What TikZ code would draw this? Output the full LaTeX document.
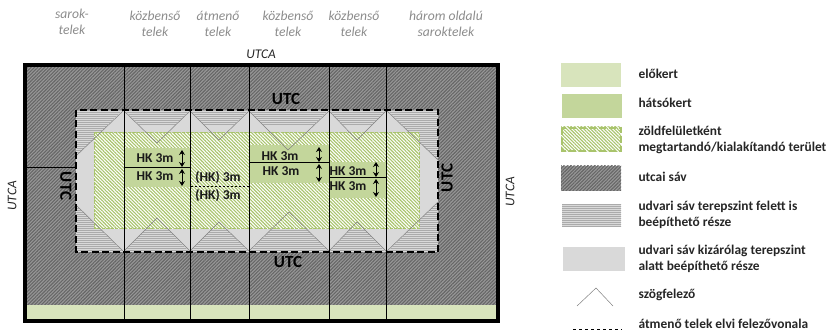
\documentclass[tikz,border=0pt]{standalone}
\usepackage{fontspec}
\setmainfont{Carlito}
\usetikzlibrary{patterns.meta,arrows.meta}
\definecolor{frontg}{HTML}{D8E4BC}
\definecolor{backg}{HTML}{C3D69B}
\definecolor{hatchg}{HTML}{A9C46C}
\definecolor{lightgr}{HTML}{D9D9D9}
\definecolor{toptxt}{HTML}{8C8C8C}
\definecolor{streetbase}{HTML}{989898}
\definecolor{streetline}{HTML}{666666}
\tikzset{
  x=1pt,y=-1pt,
  street/.style={pattern={Lines[angle=45,distance=2.4pt,line width=1.1pt]},pattern color=streetline},
  courtfill/.style={pattern={Lines[angle=0,distance=2pt,line width=0.9pt]},pattern color=black!33},
  greenhatch/.style={pattern={Lines[angle=-45,distance=2.4pt,line width=1.1pt]},pattern color=hatchg},
  plotline/.style={draw=black,line width=1pt},
  bisect/.style={draw=black!50,line width=0.5pt},
  toplabel/.style={font=\fontsize{13.6}{16}\selectfont\itshape,text=toptxt,align=center},
  ulabel/.style={font=\fontsize{13.3}{15}\selectfont\itshape,text=black!85},
  utc/.style={font=\fontsize{17}{18}\selectfont\bfseries,text=black},
  hk/.style={font=\fontsize{13.5}{15}\selectfont\bfseries,text=black!90},
  legend/.style={font=\fontsize{13.4}{16}\selectfont\bfseries,text=black!85,align=left,anchor=west},
  dimarrow/.style={{Stealth[length=5pt,width=6pt]}-{Stealth[length=5pt,width=6pt]},line width=1pt,black}
}
\begin{document}
\begin{tikzpicture}
\useasboundingbox (0,0) rectangle (826,336);
% street band
\fill[streetbase] (25,65) rectangle (498,321);
\path[street] (25,65) rectangle (498,321);
\fill[frontg] (25,305) rectangle (498,321);
% court
\fill[lightgr] (76,110) rectangle (438,252);
% striped court parts
\begin{scope}
\clip (76,110) rectangle (438,126);
\foreach \a/\b/\c/\d in {124/190/157/143,190/249/219/140,249/329/288/150,329/386/357/140}{
  \fill[courtfill] (\a,110) -- (\b,110) -- (\c,\d) -- cycle;
}
\end{scope}
\foreach \a/\b/\c/\d in {124/190/157/218,190/249/219/222,249/329/289/212,329/386/357/222}{
  \fill[courtfill] (\a,252) -- (\b,252) -- (\c,\d) -- cycle;
}
\fill[courtfill] (76,110) -- (123,110) -- (76,156) -- cycle;
\fill[courtfill] (76,252) -- (123,252) -- (76,205) -- cycle;
\fill[courtfill] (438,110) -- (387,110) -- (438,160) -- cycle;
\fill[courtfill] (438,252) -- (387,252) -- (438,202) -- cycle;
% green
\fill[white] (94,133) rectangle (419,229);
\path[greenhatch] (94,133) rectangle (419,229);
\fill[backg] (124,148) rectangle (190,187);
\fill[backg] (249,145) rectangle (329,183);
\fill[backg] (329,162) rectangle (386,198);
\draw[hatchg,line width=1pt,dash pattern=on 3pt off 1.5pt] (94,133) rectangle (419,229);
% bisectors
\foreach \a/\b/\c/\d in {124/190/157/143,190/249/219/140,249/329/288/150,329/386/357/140}{
  \draw[bisect] (\a,111) -- (\c,\d) -- (\b,111);
}
\foreach \a/\b/\c/\d in {124/190/157/218,190/249/219/222,249/329/289/212,329/386/357/222}{
  \draw[bisect] (\a,251) -- (\c,\d) -- (\b,251);
}
\draw[bisect] (123,111) -- (76,156);
\draw[bisect] (123,251) -- (76,205);
\draw[bisect] (387,111) -- (438,160);
\draw[bisect] (387,251) -- (438,202);
% plot lines
\foreach \x in {124,190.5,249,329,386}{\draw[plotline] (\x,65) -- (\x,321);}
\draw[plotline] (25,168) -- (76,168);
\draw[plotline] (124,168) -- (190.5,168);
\draw[plotline] (249,163) -- (329,163);
\draw[plotline] (329,178) -- (386,178);
\draw[black,line width=0.7pt,dash pattern=on 2.5pt off 1.5pt] (190.5,186.5) -- (249,186.5);
% dashed border
\draw[black,line width=2pt,dash pattern=on 7pt off 3.5pt] (76,110) rectangle (438,252);
% outer
\draw[black,line width=4pt] (25,65) rectangle (498,321);
% top labels
\node[toplabel] (t1) at (72,21.5) {sarok-\\telek};
\node[toplabel] (t2) at (155,23.5) {közbenső\\telek};
\node[toplabel] (t3) at (218,23.5) {átmenő\\telek};
\node[toplabel] (t4) at (288,23.5) {közbenső\\telek};
\node[toplabel] (t5) at (354,23.5) {közbenső\\telek};
\node[toplabel] (t6) at (446,23.5) {három oldalú\\saroktelek};
\node[ulabel] (u1) at (261,54) {UTCA};
\node[ulabel,rotate=90] (u2) at (12,196) {UTCA};
\node[ulabel,rotate=90] (u3) at (510,192) {UTCA};
\node[utc] (c1) at (286,99) {UTC};
\node[utc] (c2) at (288,262) {UTC};
\node[utc,rotate=-90] (c3) at (66,186) {UTC};
\node[utc,rotate=90] (c4) at (447,178) {UTC};
% HK
\node[hk] (h1) at (155,158) {HK 3m};
\node[hk] (h2) at (155,176) {HK 3m};
\node[hk] (h3) at (218,178) {(HK) 3m};
\node[hk] (h4) at (218,196) {(HK) 3m};
\node[hk] (h5) at (280,156) {HK 3m};
\node[hk] (h6) at (281,171) {HK 3m};
\node[hk] (h7) at (348,171) {HK 3m};
\node[hk] (h8) at (348,186) {HK 3m};
\coordinate (a1) at (182,150); \coordinate (a2) at (182,167);
\coordinate (a3) at (182,169); \coordinate (a4) at (182,186);
\coordinate (a5) at (319,147); \coordinate (a6) at (319,162);
\coordinate (a7) at (319,164); \coordinate (a8) at (319,182);
\coordinate (a9) at (376,162); \coordinate (a10) at (376,177);
\coordinate (a11) at (376,179); \coordinate (a12) at (376,197);
\foreach \p/\q in {a1/a2,a3/a4,a5/a6,a7/a8,a9/a10,a11/a12}{\draw[dimarrow] (\p) -- (\q);}
% legend
\fill[frontg] (561,63) rectangle (621,87);
\fill[backg] (562,94) rectangle (622,118);
\fill[white] (561,127) rectangle (621,152);
\path[greenhatch] (561,127) rectangle (621,152);
\draw[hatchg,line width=2pt,dash pattern=on 7pt off 3pt] (562,128) rectangle (621,151);
\fill[streetbase] (561,166) rectangle (621,191);
\path[street] (561,166) rectangle (621,191);
\fill[lightgr] (562,204) rectangle (621,227);
\fill[courtfill] (562,204) rectangle (621,227);
\fill[lightgr] (563,247) rectangle (625,271);
\draw[bisect] (577,306) -- (596,288) -- (613,306);
\draw[black,line width=0.7pt,dash pattern=on 3pt off 3pt] (573,329) -- (622,329);
\node[legend] (l1) at (635,74) {előkert};
\node[legend] (l2) at (635,103) {hátsókert};
\node[legend] (l3) at (635,140) {zöldfelületként\\megtartandó/kialakítandó terület};
\node[legend] (l4) at (635,177) {utcai sáv};
\node[legend] (l5) at (635,215) {udvari sáv terepszint felett is\\beépíthető része};
\node[legend] (l6) at (635,259) {udvari sáv kizárólag terepszint\\alatt beépíthető része};
\node[legend] (l7) at (635,295) {szögfelező};
\node[legend] (l8) at (635,324) {átmenő telek elvi felezővonala};
\end{tikzpicture}
\end{document}
